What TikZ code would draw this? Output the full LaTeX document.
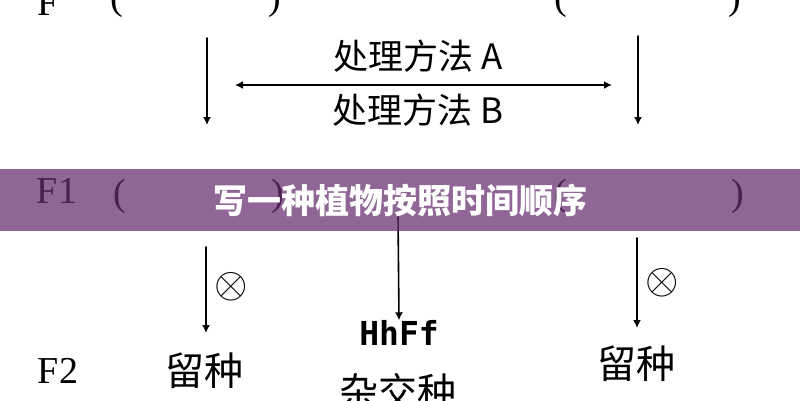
\documentclass[tikz,border=0pt]{standalone}
\usepackage{fontspec}
\setmainfont{Liberation Serif}
\newfontfamily\cjk{Noto Sans CJK SC}
\newfontfamily\hhmono{DejaVu Sans Mono}
\usetikzlibrary{arrows.meta}
\usetikzlibrary{positioning}
\definecolor{bandpurple}{RGB}{101,45,110}

\tikzset{
	gen/.style={font=\fontsize{38}{38}\selectfont, inner sep=0pt, anchor=base},
	meth/.style={font=\cjk\fontsize{35}{35}\selectfont, inner sep=0pt},
	keep/.style={font=\cjk\fontsize{39}{39}\selectfont, inner sep=0pt},
	selfing/.style={inner sep=0pt},
	flow/.style={line width=1.6pt, -{Latex[length=8pt, width=8pt]}}
}

\begin{document}
\begin{tikzpicture}[line cap=round,line join=round, x=1pt,y=-1pt]
					\useasboundingbox (0,0) rectangle (800,400);
					% generation labels and brackets
					\node[gen] (topF) at (48,15) {F};
					\node[gen] (topLo) at (117,9) {(};
					\node[gen] (topLc) at (275,9) {)};
					\node[gen] (topRo) at (561,9) {(};
					\node[gen] (topRc) at (735,9) {)};
					\node[gen] (oneF) at (57,203) {F1};
					\node[gen] (oneLo) at (120,205) {(};
					\node[gen] (oneLc) at (278,205) {)};
					\node[gen] (oneRo) at (561,205) {(};
					\node[gen] (oneRc) at (738,205) {)};
					\node[gen] (twoF) at (58,383) {F2};
					% treatments
					\coordinate (pL) at (207,38);
					\coordinate (qL) at (207,125);
					\coordinate (pR) at (638,36);
					\coordinate (qR) at (638,125);
					\coordinate (hA) at (235,85);
					\coordinate (hB) at (612,85);
					\draw[flow] (pL) -- (qL);
					\draw[flow] (pR) -- (qR);
					\draw[line width=2pt, {Latex[length=8pt, width=8pt]}-{Latex[length=8pt, width=8pt]}] (hA) -- (hB);
					\node[meth] (methA) at (418,56) {处理方法 A};
					\node[meth] (methB) at (418,110) {处理方法 B};
					% second generation
					\coordinate (sL) at (206,247);
					\coordinate (tL) at (206,333);
					\coordinate (sM) at (398,215);
					\coordinate (sR) at (637,238);
					\coordinate (tR) at (637,328);
					\node[selfing] (selfL) at (231,287) {\scalebox{4.3}{$\otimes$}};
					\node[selfing] (selfR) at (662,283) {\scalebox{4.3}{$\otimes$}};
					\node[font=\hhmono\bfseries\fontsize{33}{33}\selectfont, inner sep=0pt] (hyb) at (399,333) {HhFf};
					\draw[flow] (sL) -- (tL);
					\draw[flow] (sM) -- (hyb.north);
					\draw[flow] (sR) -- (tR);
					\node[keep] (keepL) at (204,371) {留种};
					\node[keep] (keepR) at (636,364) {留种};
					\node[keep] (hybName) at (398,392) {杂交种};
					% title band
					\fill[bandpurple, opacity=0.73] (0,169) rectangle (800,231);
					\node[font=\cjk\bfseries\fontsize{34}{34}\selectfont, text=white, inner sep=0pt] (title) at (400,200) {写一种植物按照时间顺序};
				\end{tikzpicture}
\end{document}
